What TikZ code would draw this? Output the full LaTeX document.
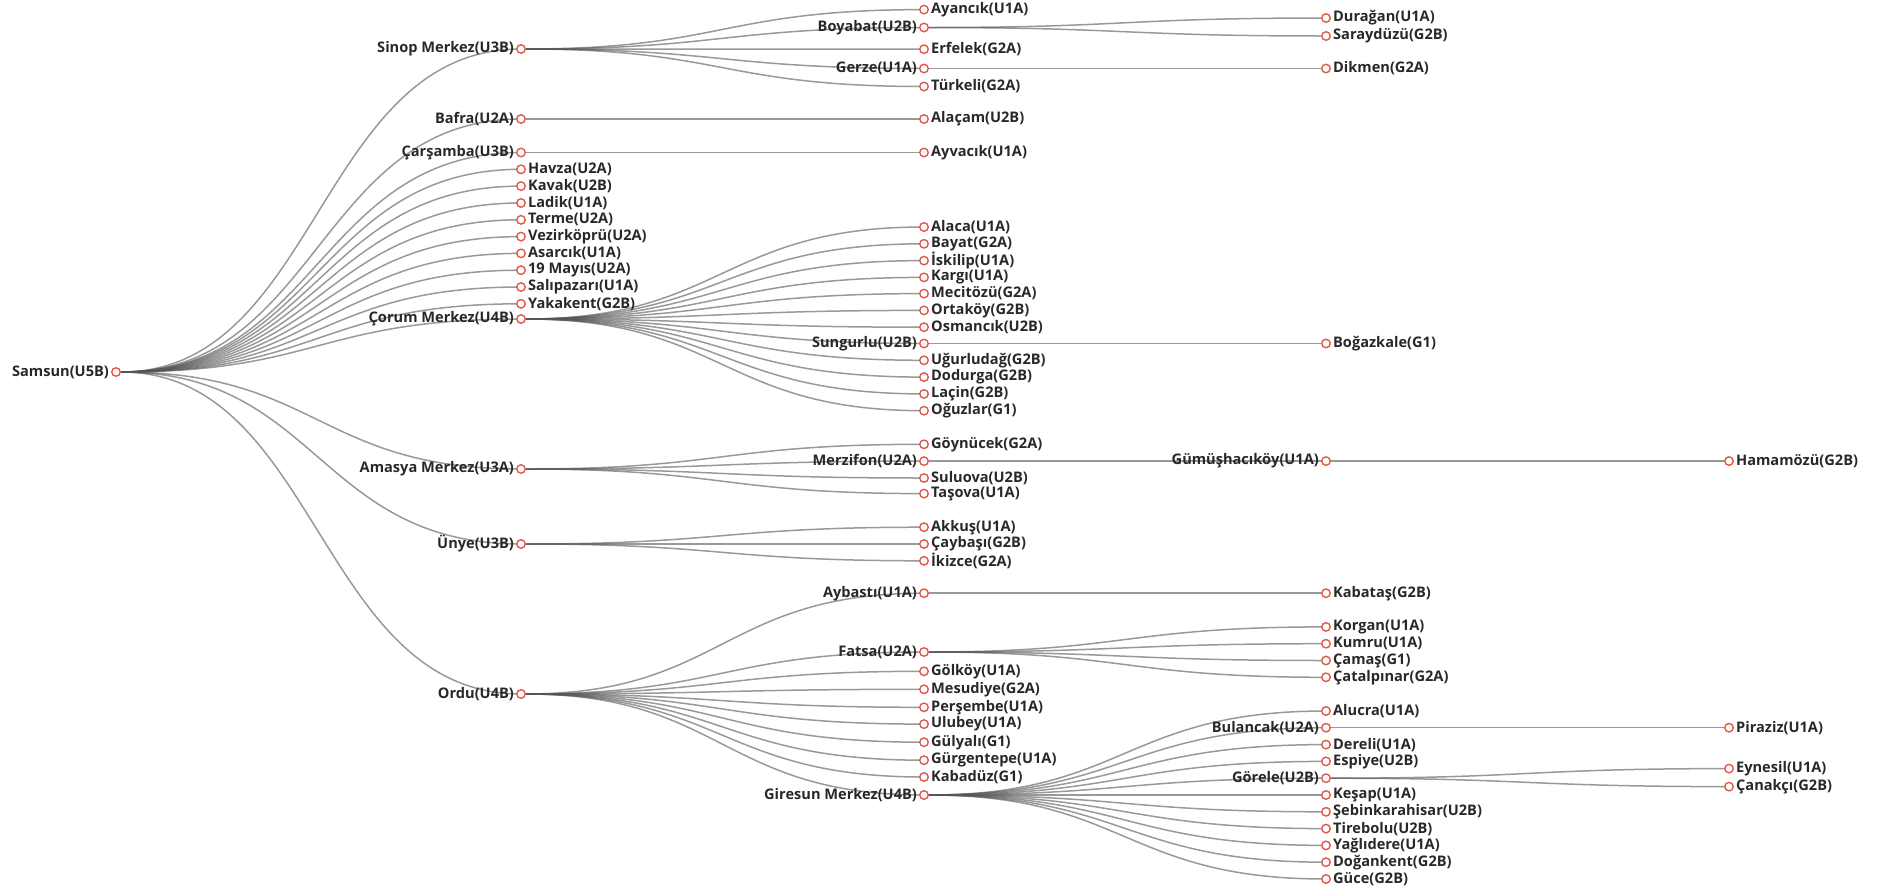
\documentclass[tikz,border=0pt]{standalone}
\usepackage{fontspec}
\newfontfamily\lblfont{Open Sans}
\usepackage{tikz}
\usetikzlibrary{calc}
\definecolor{dotred}{RGB}{228,88,72}
\definecolor{linkgray}{RGB}{85,85,85}
\definecolor{lblgray}{RGB}{40,40,40}
\pgfdeclarelayer{bg}
\pgfsetlayers{bg,main}

\begin{document}
\begin{tikzpicture}[x=1pt, y=-1pt,
	every label/.style={font=\lblfont\bfseries\fontsize{14.6}{17}\selectfont, text=lblgray, inner sep=2pt},
	dot/.style={circle, draw=dotred, fill=white, line width=1.4pt, minimum size=8.5pt, inner sep=0pt, label distance=1pt},
	link/.style={draw=linkgray, draw opacity=0.6, line width=1.5pt},
	elbow/.style={to path={let \p1=(\tikztostart), \p2=(\tikztotarget) in .. controls ({(\x1+\x2)/2},\y1) and ({(\x1+\x2)/2},\y2) .. (\p2)}}]
	\useasboundingbox (0,0) rectangle (1883,887);
	% root
	\node[dot, label=left:Samsun(U5B)] (samsun) at (116,372) {};
	% level 1
	\node[dot, label=left:Sinop Merkez(U3B)] (sinop) at (521,49) {};
	\node[dot, label=left:Bafra(U2A)] (bafra) at (521,119) {};
	\node[dot, label=left:Çarşamba(U3B)] (carsamba) at (521,152.5) {};
	\foreach \nm/\yy/\txt in {havza/169.3/Havza(U2A), kavak/186.1/Kavak(U2B), ladik/203/Ladik(U1A),
		terme/219.8/Terme(U2A), vezirkopru/236.6/Vezirköprü(U2A), asarcik/253.4/Asarcık(U1A),
		mayis/270.2/19 Mayıs(U2A), salipazari/287/Salıpazarı(U1A), yakakent/303.8/Yakakent(G2B)}
		\node[dot, label=right:\txt] (\nm) at (521,\yy) {};
	\node[dot, label=left:Çorum Merkez(U4B)] (corum) at (521,319) {};
	\node[dot, label=left:Amasya Merkez(U3A)] (amasya) at (521,469) {};
	\node[dot, label=left:Ünye(U3B)] (unye) at (521,544) {};
	\node[dot, label=left:Ordu(U4B)] (ordu) at (521,694) {};
	% level 2
	\node[dot, label=left:Boyabat(U2B)] (boyabat) at (924,27.5) {};
	\node[dot, label=left:Gerze(U1A)] (gerze) at (924,68.5) {};
	\node[dot, label=left:Sungurlu(U2B)] (sungurlu) at (924,343.5) {};
	\node[dot, label=left:Merzifon(U2A)] (merzifon) at (924,461.1) {};
	\node[dot, label=left:Aybastı(U1A)] (aybasti) at (924,593.2) {};
	\node[dot, label=left:Fatsa(U2A)] (fatsa) at (924,652) {};
	\node[dot, label=left:Giresun Merkez(U4B)] (giresun) at (924,795) {};
	\foreach \nm/\yy/\txt in {ayancik/9.6/Ayancık(U1A), erfelek/49.2/Erfelek(G2A), turkeli/86.5/Türkeli(G2A),
		alacam/119/Alaçam(U2B), ayvacik/152.5/Ayvacık(U1A),
		alaca/227/Alaca(U1A), bayat/243.8/Bayat(G2A), iskilip/260.6/İskilip(U1A), kargi/277.4/Kargı(U1A),
		mecitozu/293.6/Mecitözü(G2A), ortakoy/310.4/Ortaköy(G2B), osmancik/327.2/Osmancık(U2B),
		ugurludag/360.3/Uğurludağ(G2B), dodurga/377.1/Dodurga(G2B), lacin/393.9/Laçin(G2B), oguzlar/410.7/Oğuzlar(G1),
		goynucek/444.3/Göynücek(G2A), suluova/478/Suluova(U2B), tasova/493.6/Taşova(U1A),
		akkus/527.2/Akkuş(U1A), caybasi/544/Çaybaşı(G2B), ikizce/560.8/İkizce(G2A),
		golkoy/671.3/Gölköy(U1A), mesudiye/689.3/Mesudiye(G2A), persembe/707.3/Perşembe(U1A),
		ulubey/724.1/Ulubey(U1A), gulyali/742.2/Gülyalı(G1), gurgentepe/760.2/Gürgentepe(U1A), kabaduz/777/Kabadüz(G1)}
		\node[dot, label=right:\txt] (\nm) at (924,\yy) {};
	% level 3
	\node[dot, label=left:Gümüşhacıköy(U1A)] (gumushacikoy) at (1326,461.1) {};
	\node[dot, label=left:Bulancak(U2A)] (bulancak) at (1326,727.7) {};
	\node[dot, label=left:Görele(U2B)] (gorele) at (1326,778.2) {};
	\foreach \nm/\yy/\txt in {duragan/18/Durağan(U1A), saraydüzü/36/Saraydüzü(G2B), dikmen/68.5/Dikmen(G2A),
		bogazkale/343.5/Boğazkale(G1), kabatas/593.2/Kabataş(G2B),
		korgan/626.9/Korgan(U1A), kumru/643.7/Kumru(U1A), camas/660.5/Çamaş(G1), catalpinar/677.3/Çatalpınar(G2A),
		alucra/711/Alucra(U1A), dereli/744.6/Dereli(U1A), espiye/761.4/Espiye(U2B), kesap/795/Keşap(U1A),
		sebinkarahisar/811.8/Şebinkarahisar(U2B), tirebolu/828.6/Tirebolu(U2B), yaglidere/845.4/Yağlıdere(U1A),
		dogankent/862.2/Doğankent(G2B), guce/879/Güce(G2B)}
		\node[dot, label=right:\txt] (\nm) at (1326,\yy) {};
	% level 4
	\foreach \nm/\yy/\txt in {hamamozu/461.1/Hamamözü(G2B), piraziz/727.7/Piraziz(U1A),
		eynesil/768.6/Eynesil(U1A), canakci/786.6/Çanakçı(G2B)}
		\node[dot, label=right:\txt] (\nm) at (1729,\yy) {};
	% links
	\begin{pgfonlayer}{bg}
		\foreach \c in {sinop,bafra,carsamba,havza,kavak,ladik,terme,vezirkopru,asarcik,mayis,salipazari,yakakent,corum,amasya,unye,ordu}
			\draw[link] (samsun) to[elbow] (\c);
		\foreach \c in {ayancik,boyabat,erfelek,gerze,turkeli}
			\draw[link] (sinop) to[elbow] (\c);
		\foreach \c in {duragan,saraydüzü}
			\draw[link] (boyabat) to[elbow] (\c);
		\draw[link] (gerze) to[elbow] (dikmen);
		\draw[link] (bafra) to[elbow] (alacam);
		\draw[link] (carsamba) to[elbow] (ayvacik);
		\foreach \c in {alaca,bayat,iskilip,kargi,mecitozu,ortakoy,osmancik,sungurlu,ugurludag,dodurga,lacin,oguzlar}
			\draw[link] (corum) to[elbow] (\c);
		\draw[link] (sungurlu) to[elbow] (bogazkale);
		\foreach \c in {goynucek,merzifon,suluova,tasova}
			\draw[link] (amasya) to[elbow] (\c);
		\draw[link] (merzifon) to[elbow] (gumushacikoy);
		\draw[link] (gumushacikoy) to[elbow] (hamamozu);
		\foreach \c in {akkus,caybasi,ikizce}
			\draw[link] (unye) to[elbow] (\c);
		\foreach \c in {aybasti,fatsa,golkoy,mesudiye,persembe,ulubey,gulyali,gurgentepe,kabaduz,giresun}
			\draw[link] (ordu) to[elbow] (\c);
		\draw[link] (aybasti) to[elbow] (kabatas);
		\foreach \c in {korgan,kumru,camas,catalpinar}
			\draw[link] (fatsa) to[elbow] (\c);
		\foreach \c in {alucra,bulancak,dereli,espiye,gorele,kesap,sebinkarahisar,tirebolu,yaglidere,dogankent,guce}
			\draw[link] (giresun) to[elbow] (\c);
		\draw[link] (bulancak) to[elbow] (piraziz);
		\foreach \c in {eynesil,canakci}
			\draw[link] (gorele) to[elbow] (\c);
	\end{pgfonlayer}
\end{tikzpicture}
\end{document}
